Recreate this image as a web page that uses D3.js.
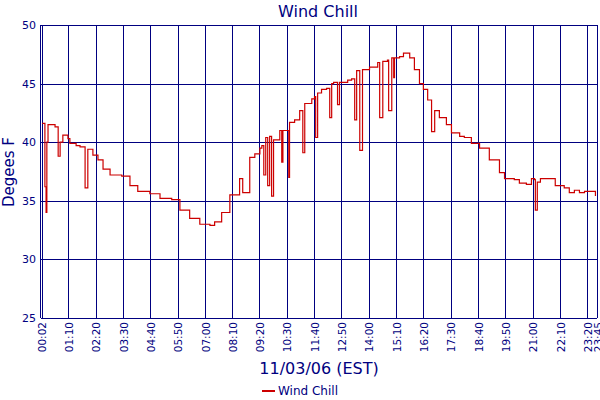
<!DOCTYPE html>
<html><head><meta charset="utf-8">
<script src="https://cdn.jsdelivr.net/npm/d3@7"></script>
<style>body{margin:0;background:#fff}text{font-family:"DejaVu Sans",Verdana,sans-serif}</style>
</head><body><svg id="c" width="600" height="400"></svg>
<script>
const tickLabels=["00:02","01:10","02:20","03:30","04:40","05:50","07:00","08:10","09:20","10:30","11:40","12:50","14:00","15:10","16:20","17:30","18:40","19:50","21:00","22:10","23:20","23:45"];
const yTicks=[25,30,35,40,45,50];
const minutes=[3,10,13,15,18,31,36,44,49,56,69,74,90,100,113,120,133,146,159,177,207,228,248,279,305,335,356,381,407,433,445,463,484,509,517,535,548,561,566,571,576,581,586,591,596,612,617,620,635,637,650,663,671,676,694,701,704,709,719,732,740,745,750,760,765,778,786,796,804,809,817,824,842,858,863,868,876,888,891,899,904,906,919,929,945,957,970,980,991,1001,1009,1021,1039,1052,1073,1085,1103,1124,1149,1175,1188,1213,1226,1244,1257,1265,1267,1272,1280,1303,1318,1341,1354,1367,1380,1393,1405,1421];
const chill=[41.6,36.2,34.0,40.0,41.5,41.5,41.3,38.8,40.0,40.6,40.3,39.9,39.7,39.6,36.1,39.4,38.9,38.5,37.7,37.2,37.1,36.3,35.8,35.6,35.2,35.1,34.2,33.5,33.0,32.9,33.2,34.0,35.5,36.9,35.7,38.7,39.0,39.5,39.7,37.2,40.4,36.3,40.5,35.4,40.2,41.0,38.3,41.0,37.0,41.7,41.9,42.7,39.1,43.3,43.7,43.9,40.4,44.2,44.5,44.6,42.1,45.0,45.1,43.2,45.1,45.1,45.3,45.4,41.9,46.1,39.3,46.2,46.4,46.4,46.8,42.1,46.9,47.0,42.7,47.2,45.5,47.2,47.3,47.6,47.2,46.2,45.0,44.5,43.6,40.9,42.7,42.1,41.5,40.8,40.5,40.4,39.9,39.5,38.5,37.4,36.9,36.8,36.5,36.4,36.9,36.8,34.2,36.6,36.9,36.9,36.3,36.1,35.7,35.9,35.7,35.8,35.8,35.4];
const toMin=s=>{const [h,m]=s.split(":").map(Number);return h*60+m;};
const svg=d3.select("#c");
const L=41,R=597,T=25,B=318,navy="#000080";
const x=d3.scaleLinear().domain([0,1425]).range([L,R]);
const y=d3.scaleLinear().domain([25,50]).range([B,T]);
const px=v=>Math.round(v)+0.5;
svg.append("g").selectAll("line").data(tickLabels).join("line")
 .attr("x1",d=>px(x(toMin(d)))).attr("x2",d=>px(x(toMin(d)))).attr("y1",T).attr("y2",B)
 .attr("stroke",navy).attr("stroke-width",1);
svg.append("g").selectAll("line").data(yTicks).join("line")
 .attr("x1",L).attr("x2",R).attr("y1",d=>px(y(d))).attr("y2",d=>px(y(d)))
 .attr("stroke",navy).attr("stroke-width",1);
svg.append("line").attr("x1",px(L-1)).attr("x2",px(L-1)).attr("y1",T).attr("y2",B).attr("stroke",navy);
svg.append("g").selectAll("text").data(yTicks).join("text")
 .attr("x",L-5).attr("y",d=>y(d)+4).attr("text-anchor","end").attr("font-size",11).attr("fill",navy).text(d=>d);
svg.append("g").selectAll("text").data(tickLabels).join("text")
 .attr("transform",d=>`translate(${x(toMin(d))+1},${B+4}) rotate(-90)`)
 .attr("dy","0.35em").attr("text-anchor","end").attr("font-size",10.5).attr("fill",navy).text(d=>d);
const pts=minutes.map((m,i)=>[m,chill[i]]);
svg.append("path").datum(pts).attr("fill","none").attr("stroke","#cc0000").attr("stroke-width",1.2)
 .attr("d",d3.line().curve(d3.curveStepAfter).x(d=>x(d[0])).y(d=>y(d[1])));
svg.append("text").attr("x",318).attr("y",17).attr("text-anchor","middle").attr("font-size",16).attr("fill",navy).text("Wind Chill");
svg.append("text").attr("transform","translate(14,172) rotate(-90)").attr("text-anchor","middle").attr("font-size",15).attr("fill",navy).text("Degees F");
svg.append("text").attr("x",319).attr("y",374).attr("text-anchor","middle").attr("font-size",16).attr("fill",navy).text("11/03/06 (EST)");
svg.append("line").attr("x1",262).attr("x2",275).attr("y1",391).attr("y2",391).attr("stroke","#cc0000").attr("stroke-width",2);
svg.append("text").attr("x",278).attr("y",395).attr("font-size",12).attr("fill",navy).text("Wind Chill");
</script></body></html>
